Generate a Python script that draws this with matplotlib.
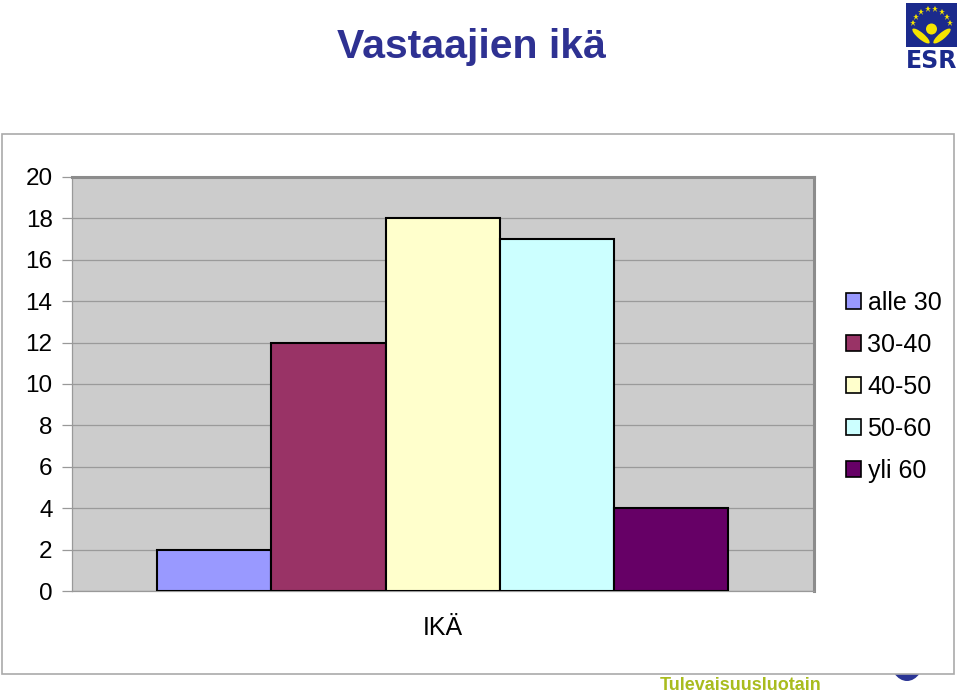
import matplotlib
matplotlib.use("Agg")
import matplotlib.pyplot as plt
from matplotlib.patches import Rectangle, Circle, Ellipse
import numpy as np

# data
categories = ["alle 30", "30-40", "40-50", "50-60", "yli 60"]
counts = [2, 12, 18, 17, 4]
colors = ["#9999FF", "#993366", "#FFFFCC", "#CCFFFF", "#660066"]
yticks = [0, 2, 4, 6, 8, 10, 12, 14, 16, 18, 20]

W, H = 960, 697
fig = plt.figure(figsize=(W / 100, H / 100), dpi=100)
plt.rcParams["font.family"] = ["Liberation Sans", "DejaVu Sans"]


def fx(px):
    return px / W


def fy(py):
    return 1 - py / H


# blue circle peeking out from behind the chart frame
fig.add_artist(Ellipse((fx(907), fy(655)), 36 / W, 52 / H, transform=fig.transFigure,
                       facecolor="#2B3595", edgecolor="none", zorder=0))
# chart frame
fig.add_artist(Rectangle((fx(2), fy(674)), fx(954) - fx(2), fy(134) - fy(674),
                         transform=fig.transFigure, facecolor="white",
                         edgecolor="#AAAAAA", linewidth=1.2, zorder=0.5))

ax = fig.add_axes([fx(72), fy(591), fx(814) - fx(72), fy(177) - fy(591)])
ax.set_zorder(2)
ax.set_facecolor("#CCCCCC")
x = np.arange(len(counts))
ax.bar(x, counts, width=1.0, color=colors, edgecolor="black", linewidth=1.5, zorder=3)
ax.set_xlim(-1.245, 5.25)
ax.set_ylim(0, 20)
ax.set_yticks(yticks)
ax.set_yticklabels([str(v) for v in yticks], fontsize=17.5)
ax.yaxis.grid(True, color="#9A9A9A", linewidth=0.9, zorder=1)
ax.set_xticks([])
ax.tick_params(axis="y", length=7, color="#999999", pad=7, width=0.9)
for s in ["left", "bottom"]:
    ax.spines[s].set_color("#999999")
    ax.spines[s].set_linewidth(0.9)
for s in ["top", "right"]:
    ax.spines[s].set_color("#8C8C8C")
    ax.spines[s].set_linewidth(2.2)

# legend
leg_handles = [Rectangle((0, 0), 1, 1, facecolor=c, edgecolor="black", linewidth=1.2)
               for c in colors]
fig.legend(leg_handles, categories, loc="upper left",
           bbox_to_anchor=(fx(836), fy(281)), frameon=False, fontsize=18,
           handlelength=0.58, handleheight=0.58, handletextpad=0.28,
           labelspacing=0.72, borderaxespad=0)

fig.text(fx(443), fy(628), "IKÄ", fontsize=18, ha="center", va="center")
fig.text(fx(471), fy(47), "Vastaajien ikä", fontsize=29.5, fontweight="bold",
         color="#2E3192", ha="center", va="center")
fig.text(fx(741), fy(686), "Tulevaisuusluotain", fontsize=13, fontweight="bold",
         color="#A9BC1E", ha="center", va="center")

# ESR logo
lax = fig.add_axes([fx(905), fy(73), fx(53), fy(2) - fy(73)])
lax.set_xlim(0, 53)
lax.set_ylim(71, 0)
lax.axis("off")
lax.add_patch(Rectangle((1, 1), 51, 44, facecolor="#1B2A8C", edgecolor="none"))
for ang in np.linspace(190, 350, 8):
    r = np.radians(ang)
    lax.plot(26.5 + 19 * np.cos(r), 24 + 17 * np.sin(r), marker="*", color="#F5E400",
             markersize=5, markeredgewidth=0)
lax.add_patch(Circle((26.5, 27), 5.5, facecolor="#F5E400", edgecolor="none"))
lax.add_patch(Ellipse((16, 34), 22, 6.5, angle=40, facecolor="#F5E400", edgecolor="none"))
lax.add_patch(Ellipse((37, 34), 22, 6.5, angle=-40, facecolor="#F5E400", edgecolor="none"))
lax.text(26.5, 59, "ESR", fontsize=17, fontweight="bold", color="#1B2A8C",
         ha="center", va="center", family="DejaVu Sans")

fig.savefig("out.png", dpi=100)
